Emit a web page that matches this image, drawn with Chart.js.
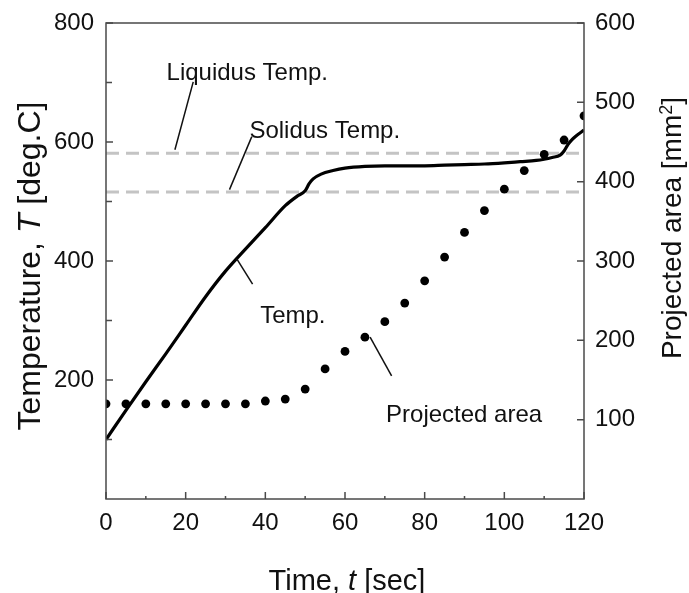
<!DOCTYPE html>
<html>
<head>
<meta charset="utf-8">
<script src="https://cdn.jsdelivr.net/npm/chart.js@4.4.1/dist/chart.umd.min.js"></script>
<style>
  html, body { margin: 0; padding: 0; background: #fff; }
  #wrap { width: 689px; height: 593px; }
</style>
</head>
<body>
<div id="wrap"><canvas id="chart" width="689" height="593"></canvas></div>
<script>
// temperature curve (left axis, deg.C)
const timeTemp = [0, 5, 10, 15, 20, 25, 30, 35, 40, 45, 48, 50, 51, 52, 54, 57, 60, 65, 70, 75, 80, 85, 90, 95, 100, 104, 108, 110, 112, 114, 115, 116, 117, 118, 120];
const temperature = [100, 149, 197, 244, 292, 340, 383, 420, 456, 493, 509, 518, 530, 538, 546, 552, 556, 559, 560, 560, 560, 561, 562, 563, 565, 567, 569, 571, 574, 578, 585, 596, 604, 610, 620];

// projected area dots (right axis, mm2)
const timeArea = [0, 5, 10, 15, 20, 25, 30, 35, 40, 45, 50, 55, 60, 65, 70, 75, 80, 85, 90, 95, 100, 105, 110, 115, 120];
const projectedArea = [120, 120, 120, 120, 120, 120, 120, 120, 123.5, 126, 138.5, 164, 186, 204, 223.5, 247, 275, 305, 336, 363.5, 390.5, 414, 434.5, 452.5, 483];

const liquidusTemp = 581;
const solidusTemp = 516;
const timeRange = [0, 120];

// tick values
const xTickValues = [0, 20, 40, 60, 80, 100, 120];
const xMinorValues = [10, 30, 50, 70, 90, 110];
const leftTickValues = [200, 400, 600, 800];
const leftMinorValues = [100, 300, 500, 700];
const rightTickValues = [100, 200, 300, 400, 500, 600];

// callout labels, in (time, temperature) coordinates
const callouts = [
  { text: 'Liquidus Temp.', at: [15.2, 704], from: [21.9, 701], to: [17.3, 587] },
  { text: 'Solidus Temp.', at: [36.0, 606], from: [36.6, 609], to: [31.0, 520] },
  { text: 'Temp.', at: [38.7, 296], from: [32.8, 404], to: [36.8, 361] },
  { text: 'Projected area', at: [70.3, 130], from: [66.3, 272], to: [71.7, 207] }
];

const FONT = "'Liberation Sans', Arial, Helvetica, sans-serif";
const INK = '#111';
const AXIS = '#4a4a4a';
Chart.defaults.font.family = FONT;
Chart.defaults.color = INK;

const xy = (xs, ys) => xs.map((x, i) => ({ x, y: ys[i] }));

function drawParts(ctx, parts, x, y, rot) {
  ctx.save();
  ctx.translate(x, y);
  ctx.rotate(rot);
  ctx.textAlign = 'left';
  ctx.textBaseline = 'alphabetic';
  let total = 0;
  parts.forEach(p => { ctx.font = p.font; p.w = ctx.measureText(p.text).width; total += p.w; });
  let cx = -total / 2;
  parts.forEach(p => { ctx.font = p.font; ctx.fillText(p.text, cx, p.dy || 0); cx += p.w; });
  ctx.restore();
}

const framePlugin = {
  id: 'frame',
  afterDraw(chart) {
    const { ctx, chartArea: a, scales } = chart;
    ctx.save();
    ctx.strokeStyle = AXIS;
    ctx.lineWidth = 1.5;
    ctx.strokeRect(a.left, a.top, a.width, a.height);
    ctx.beginPath();
    xTickValues.forEach(v => { const p = scales.x.getPixelForValue(v); ctx.moveTo(p, a.bottom); ctx.lineTo(p, a.bottom - 7); });
    xMinorValues.forEach(v => { const p = scales.x.getPixelForValue(v); ctx.moveTo(p, a.bottom); ctx.lineTo(p, a.bottom - 3); });
    leftTickValues.forEach(v => { const p = scales.y.getPixelForValue(v); ctx.moveTo(a.left, p); ctx.lineTo(a.left + 7, p); });
    leftMinorValues.forEach(v => { const p = scales.y.getPixelForValue(v); ctx.moveTo(a.left, p); ctx.lineTo(a.left + 6, p); });
    rightTickValues.forEach(v => { const p = scales.y1.getPixelForValue(v); ctx.moveTo(a.right, p); ctx.lineTo(a.right - 7, p); });
    ctx.stroke();
    ctx.restore();

    // axis titles
    ctx.save();
    ctx.fillStyle = INK;
    drawParts(ctx, [
      { text: 'Temperature, ', font: `32px ${FONT}` },
      { text: 'T', font: `italic 32px ${FONT}` },
      { text: ' [deg.C]', font: `32px ${FONT}` }
    ], 40, 266, -Math.PI / 2);
    drawParts(ctx, [
      { text: 'Time, ', font: `29px ${FONT}` },
      { text: 't', font: `italic 29px ${FONT}` },
      { text: ' [sec]', font: `29px ${FONT}` }
    ], 347, 590, 0);
    drawParts(ctx, [
      { text: 'Projected area [mm', font: `28px ${FONT}` },
      { text: '2', font: `18px ${FONT}`, dy: -9 },
      { text: ']', font: `28px ${FONT}` }
    ], 681, 228, -Math.PI / 2);
    ctx.restore();
  }
};

const calloutPlugin = {
  id: 'callouts',
  afterDatasetsDraw(chart) {
    const { ctx, scales: { x, y } } = chart;
    ctx.save();
    ctx.strokeStyle = INK;
    ctx.lineWidth = 1.5;
    ctx.fillStyle = INK;
    ctx.font = `24px ${FONT}`;
    ctx.textBaseline = 'alphabetic';
    callouts.forEach(c => {
      ctx.beginPath();
      ctx.moveTo(x.getPixelForValue(c.from[0]), y.getPixelForValue(c.from[1]));
      ctx.lineTo(x.getPixelForValue(c.to[0]), y.getPixelForValue(c.to[1]));
      ctx.stroke();
      ctx.fillText(c.text, x.getPixelForValue(c.at[0]), y.getPixelForValue(c.at[1]));
    });
    ctx.restore();
  }
};

const tickFont = { size: 24, family: FONT };

new Chart(document.getElementById('chart'), {
  type: 'scatter',
  data: {
    datasets: [
      {
        label: 'Projected area',
        data: xy(timeArea, projectedArea),
        yAxisID: 'y1',
        pointRadius: 4.4,
        pointBackgroundColor: '#000',
        pointBorderWidth: 0,
        showLine: false
      },
      {
        label: 'Temp.',
        data: xy(timeTemp, temperature),
        yAxisID: 'y',
        showLine: true,
        borderColor: '#000',
        borderWidth: 3.2,
        pointRadius: 0,
        cubicInterpolationMode: 'monotone'
      },
      {
        label: 'Liquidus Temp.',
        data: xy(timeRange, [liquidusTemp, liquidusTemp]),
        yAxisID: 'y',
        showLine: true,
        borderColor: '#c4c4c4',
        borderWidth: 3,
        borderDash: [13, 7],
        pointRadius: 0
      },
      {
        label: 'Solidus Temp.',
        data: xy(timeRange, [solidusTemp, solidusTemp]),
        yAxisID: 'y',
        showLine: true,
        borderColor: '#c4c4c4',
        borderWidth: 3,
        borderDash: [13, 7],
        pointRadius: 0
      }
    ]
  },
  options: {
    responsive: false,
    animation: false,
    layout: { padding: { top: 23, left: 0, right: 0, bottom: 0 } },
    plugins: { legend: { display: false }, tooltip: { enabled: false } },
    scales: {
      x: {
        type: 'linear', min: 0, max: 120,
        grid: { display: false }, border: { display: false },
        afterBuildTicks: s => { s.ticks = xTickValues.map(v => ({ value: v })); },
        afterFit: s => { s.height = 94; },
        ticks: { font: tickFont, color: INK, padding: 2, maxRotation: 0 }
      },
      y: {
        type: 'linear', position: 'left', min: 0, max: 800,
        grid: { display: false }, border: { display: false },
        afterBuildTicks: s => { s.ticks = leftTickValues.map(v => ({ value: v })); },
        afterFit: s => { s.width = 106; },
        ticks: { font: tickFont, color: INK, padding: 4 }
      },
      y1: {
        type: 'linear', position: 'right', min: 0, max: 600,
        grid: { display: false }, border: { display: false },
        afterBuildTicks: s => { s.ticks = rightTickValues.map(v => ({ value: v })); },
        afterFit: s => { s.width = 105; },
        ticks: { font: tickFont, color: INK, padding: 3 }
      }
    }
  },
  plugins: [framePlugin, calloutPlugin]
});
</script>
</body>
</html>
